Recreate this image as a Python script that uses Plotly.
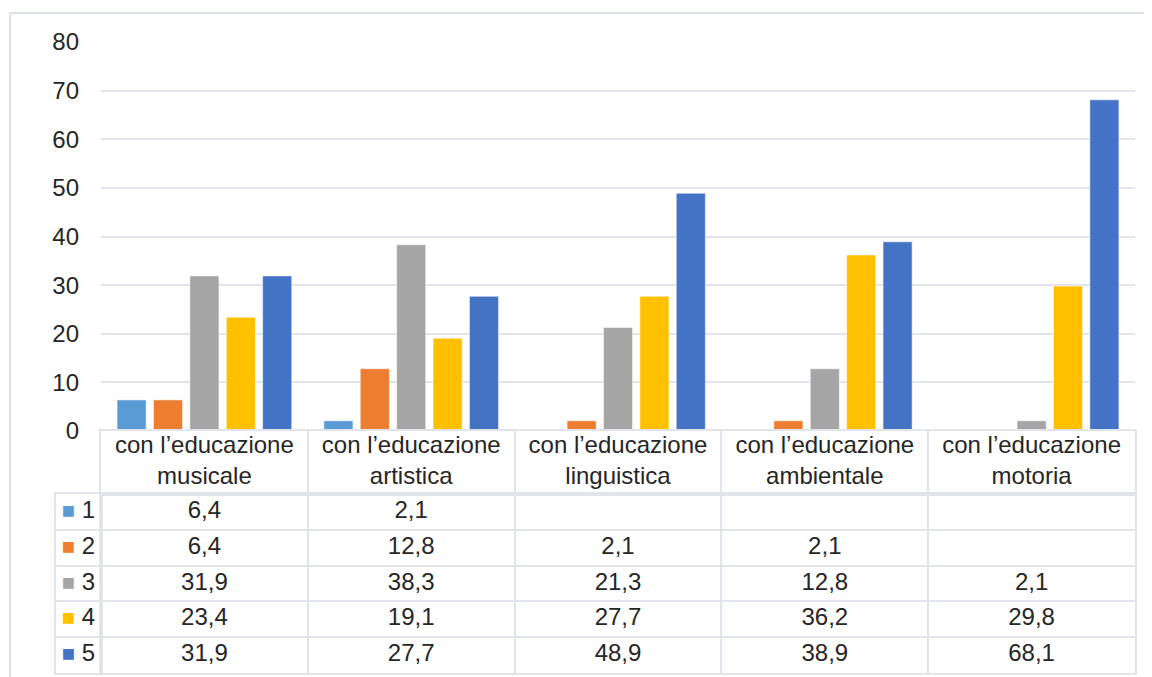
import plotly.graph_objects as go

categories = [
    "con l’educazione musicale",
    "con l’educazione artistica",
    "con l’educazione linguistica",
    "con l’educazione ambientale",
    "con l’educazione motoria",
]
series_names = ["1", "2", "3", "4", "5"]
values = [
    [6.4, 2.1, None, None, None],
    [6.4, 12.8, 2.1, 2.1, None],
    [31.9, 38.3, 21.3, 12.8, 2.1],
    [23.4, 19.1, 27.7, 36.2, 29.8],
    [31.9, 27.7, 48.9, 38.9, 68.1],
]
colors = ["#5B9BD5", "#ED7D31", "#A5A5A5", "#FFC000", "#4472C4"]

# the page body has an 8px margin, so the figure is a bit smaller and
# positions below are given in window pixels minus that margin
PAD = 8
W, H = 1152 - PAD, 677 - PAD
FONT = "Liberation Sans, Arial, sans-serif"
TXT = "#262626"
GRID = "#e1e4ea"


def px(x):
    return (x - PAD) / W


def py(y):
    return 1 - (y - PAD) / H


fig = go.Figure()

for name, vals, col in zip(series_names, values, colors):
    fig.add_trace(go.Bar(
        x=categories, y=vals, name=name,
        marker=dict(color=col, line=dict(color="rgba(255,255,255,0.55)", width=1)),
        showlegend=False,
    ))

# data table: header row, body, and the key column
def fmt(v):
    return "" if v is None else f"{v:.1f}".replace(".", ",")

header_text = [c.replace("con l’educazione ", "con l’educazione<br>") for c in categories]
fig.add_trace(go.Scatter(
    x=categories, y=["hdr"] * len(categories), text=header_text, mode="text",
    textfont=dict(family=FONT, size=24, color=TXT), xaxis="x2", yaxis="y2", showlegend=False,
))

for name, vals in zip(series_names, values):
    fig.add_trace(go.Scatter(
        x=categories, y=[name] * len(categories), text=[fmt(v) for v in vals], mode="text",
        textfont=dict(family=FONT, size=24, color=TXT), xaxis="x3", yaxis="y3", showlegend=False,
    ))

key_text = [f"<span style='color:{c};font-size:22px'>■</span> {n}" for n, c in zip(series_names, colors)]
fig.add_trace(go.Scatter(
    x=["key"] * len(series_names), y=series_names, text=key_text, mode="text",
    textfont=dict(family=FONT, size=24, color=TXT), xaxis="x4", yaxis="y4", showlegend=False,
))

x_dom = [px(101), px(1135)]
n_cat = len(categories)
n_rows = len(series_names)
table_cat_axis = dict(
    showticklabels=False, showgrid=True, gridcolor=GRID, gridwidth=1.5, tickson="boundaries",
    ticks="", zeroline=False, showline=True, mirror=True, linecolor=GRID, linewidth=1.5,
    automargin=False, fixedrange=True,
)
row_axis = dict(
    type="category", categoryorder="array", categoryarray=series_names,
    range=[n_rows - 0.5, -0.5], domain=[py(673), py(494)], **table_cat_axis,
)

fig.update_layout(
    width=W, height=H,
    margin=dict(l=0, r=0, t=0, b=0),
    paper_bgcolor="white", plot_bgcolor="white",
    barmode="group", bargap=0.12, bargroupgap=0.2,
    hovermode=False,
    font=dict(family=FONT, size=24, color=TXT),
    xaxis=dict(domain=x_dom, anchor="y", range=[-0.5, n_cat - 0.5], showticklabels=False,
               showgrid=False, showline=False, zeroline=False, automargin=False, fixedrange=True),
    yaxis=dict(domain=[py(431), py(42)], anchor="x", range=[0, 80], dtick=10,
               showgrid=True, gridcolor=GRID, gridwidth=1.5, zeroline=False,
               ticks="", ticklabelstandoff=21, tickfont=dict(size=24, color=TXT),
               automargin=False, fixedrange=True),
    xaxis2=dict(domain=x_dom, anchor="y2", matches="x", **table_cat_axis),
    yaxis2=dict(domain=[py(494), py(431)], anchor="x2", type="category", range=[-0.5, 0.5],
                showticklabels=False, showgrid=False, zeroline=False, ticks="",
                showline=True, mirror=True, linecolor=GRID, linewidth=1.5,
                automargin=False, fixedrange=True),
    xaxis3=dict(domain=x_dom, anchor="y3", matches="x", **table_cat_axis),
    yaxis3=dict(anchor="x3", **row_axis),
    xaxis4=dict(domain=[px(56), px(101)], anchor="y4", type="category", range=[-0.5, 0.5],
                **table_cat_axis),
    yaxis4=dict(anchor="x4", **row_axis),
    shapes=[
        dict(type="line", xref="paper", yref="paper", x0=px(10), x1=1, y0=py(13), y1=py(13),
             line=dict(color="#dce1e9", width=2)),
        dict(type="line", xref="paper", yref="paper", x0=px(10), x1=px(10), y0=0, y1=py(13),
             line=dict(color="#dce1e9", width=2)),
    ],
)

fig.write_html("out.html")
